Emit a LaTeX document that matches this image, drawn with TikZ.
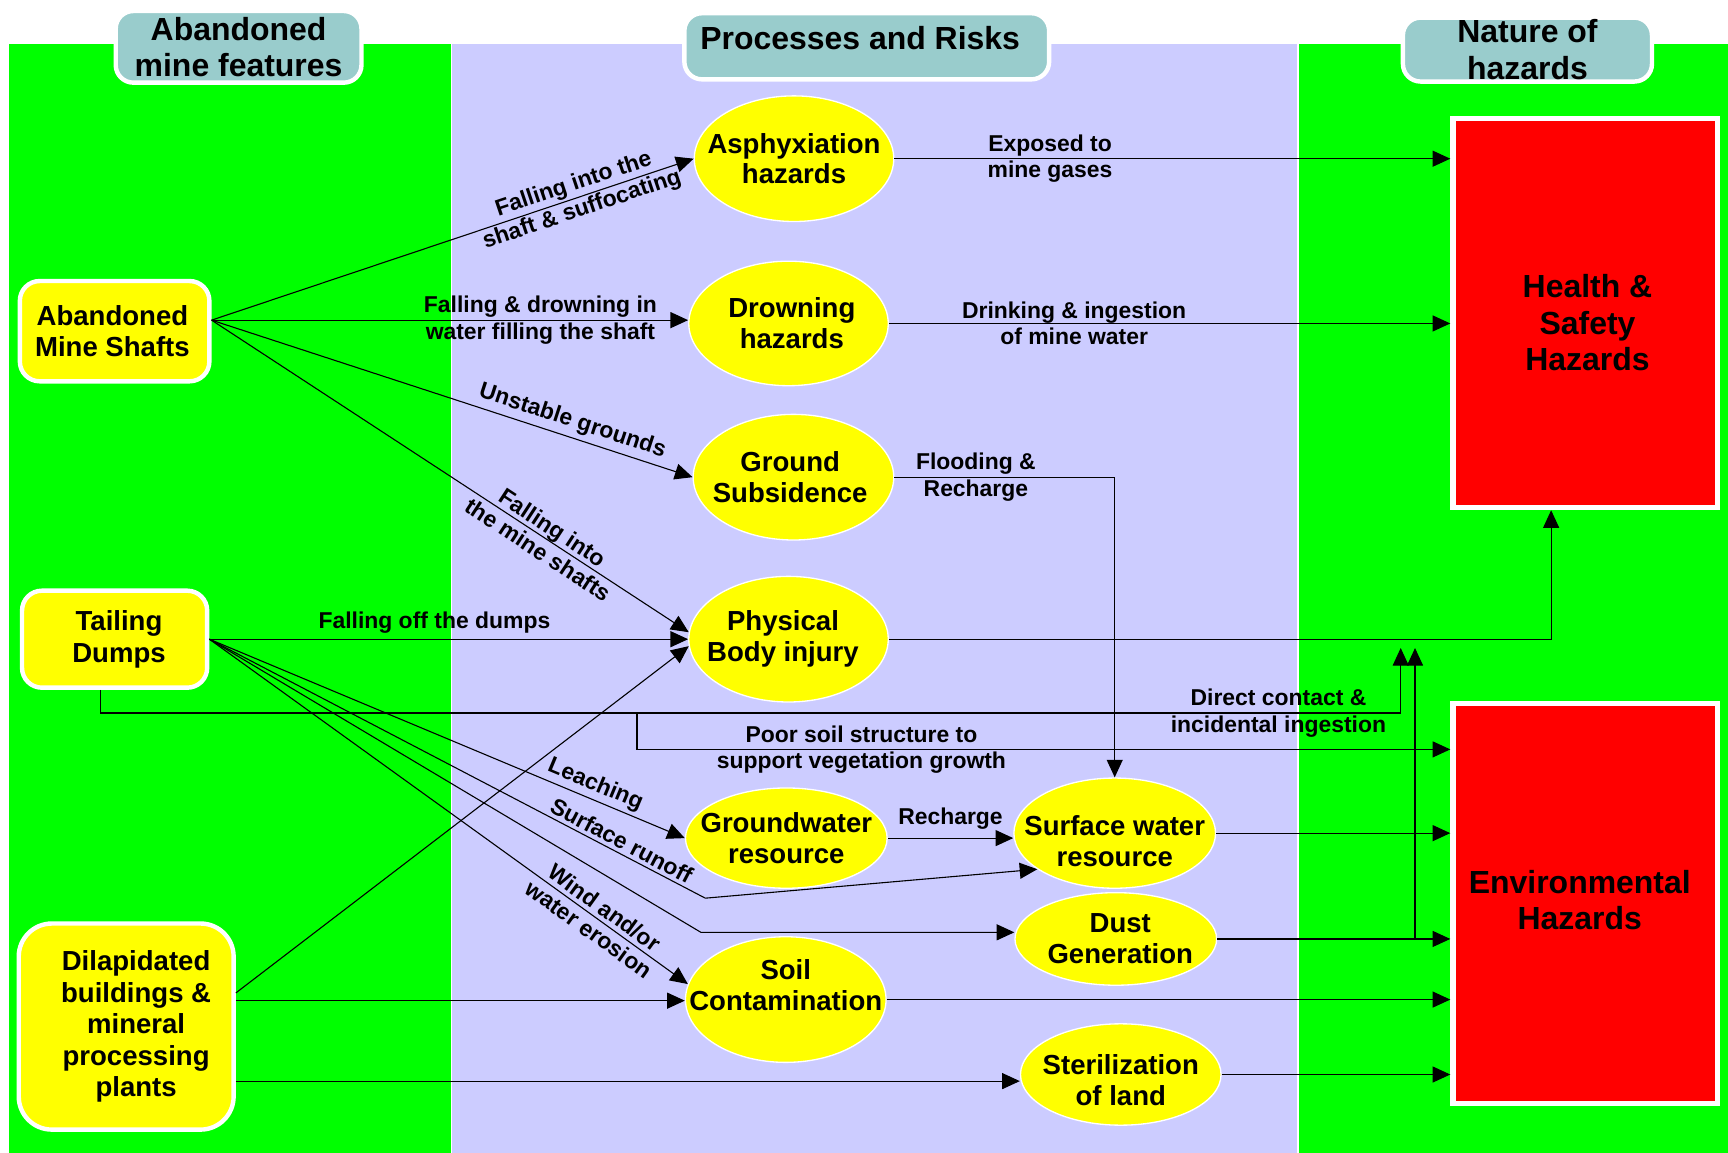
\documentclass[tikz,border=0pt]{standalone}
\usepackage{fontspec}
\setmainfont{Liberation Sans}
\usetikzlibrary{arrows.meta,shapes.geometric,calc}
\definecolor{pgreen}{HTML}{00FF00}
\definecolor{plav}{HTML}{CCCCFF}
\definecolor{pteal}{HTML}{99CCCC}
\definecolor{pyel}{HTML}{FFFF00}
\definecolor{pred}{HTML}{FF0000}
\begin{document}
\begin{tikzpicture}[x=1pt,y=-1pt,
  head/.style={fill=pteal, draw=white, line width=4pt, rounded corners=16pt, font=\bfseries\fontsize{29}{33}\selectfont, align=center, inner sep=0pt},
  feat/.style={fill=pyel, draw=white, line width=4pt, rounded corners=18pt, inner sep=0pt},
  ftxt/.style={font=\bfseries\fontsize{25}{28.5}\selectfont, align=center, inner sep=0pt},
  proc/.style={ellipse, fill=pyel, draw=white, line width=1.2pt, inner sep=0pt},
  ptxt/.style={font=\bfseries\fontsize{25}{28}\selectfont, align=center, inner sep=0pt},
  haz/.style={fill=pred, draw=white, line width=5pt, inner sep=0pt},
  hazt/.style={font=\bfseries\fontsize{29}{33}\selectfont, align=center, inner sep=0pt},
  conn/.style={draw=black, line width=1pt, -{Triangle[length=16pt,width=14.5pt]}},
  elab/.style={font=\bfseries\fontsize{20.8}{24}\selectfont, align=center, inner sep=0pt, text=black},
]
\useasboundingbox (0,0) rectangle (1568,1046);
\fill[white] (0,0) rectangle (1568,1046);
\fill[pgreen] (8,40) rectangle (409,1046);
\fill[plav] (410,40) rectangle (1177,1046);
\fill[pgreen] (1179,40) rectangle (1568,1046);

% headers
\node[head, minimum width=223, minimum height=65] (h1) at (216.5,42.5) {Abandoned\\mine features};
\node[head, minimum width=331, minimum height=60, text height=21pt, text depth=14pt, label={[font=\bfseries\fontsize{29}{33}\selectfont, xshift=-6pt, yshift=7pt]center:Processes and Risks}] (h2) at (786.5,42) {};
\node[head, minimum width=226, minimum height=58] (h3) at (1386,45) {Nature of\\hazards};

% features
\node[feat, minimum width=172, minimum height=91, label={[ftxt,xshift=-2pt]center:{Abandoned\\Mine Shafts}}] (ms) at (104,300.5) {};
\node[feat, minimum width=168, minimum height=88, label={[ftxt,xshift=4pt]center:{Tailing\\Dumps}}] (td) at (104,580) {};
\node[feat, minimum width=195, minimum height=187, rounded corners=30pt, label={[ftxt,xshift=9pt]center:{Dilapidated\\buildings \&\\mineral\\processing\\plants}}] (dil) at (114.5,931.5) {};

% processes
\node[proc, minimum width=181, minimum height=114, label={[ptxt]center:{Asphyxiation\\hazards}}] (asph) at (720.5,144) {};
\node[proc, minimum width=181, minimum height=113, label={[ptxt,xshift=3pt]center:{Drowning\\hazards}}] (drown) at (715.5,293.5) {};
\node[proc, minimum width=182, minimum height=114, label={[ptxt,xshift=-3pt]center:{Ground\\Subsidence}}] (gs) at (720,433) {};
\node[proc, minimum width=181, minimum height=114, label={[ptxt,xshift=-5pt]center:{Physical\\Body injury}}] (phys) at (715.5,580) {};
\node[proc, minimum width=183, minimum height=91, label={[ptxt]center:{Groundwater\\resource}}] (gw) at (713.5,760.5) {};
\node[proc, minimum width=183, minimum height=100, label={[ptxt,yshift=-7pt]center:{Surface water\\resource}}] (sw) at (1011.5,756) {};
\node[proc, minimum width=183, minimum height=84, label={[ptxt,xshift=4pt]center:{Dust\\Generation}}] (dust) at (1012.5,852) {};
\node[proc, minimum width=182, minimum height=114, label={[ptxt,yshift=13pt]center:{Soil\\Contamination}}] (soil) at (713,907) {};
\node[proc, minimum width=182, minimum height=92, label={[ptxt,yshift=-5pt]center:{Sterilization\\of land}}] (ster) at (1017,975) {};

% hazards
\node[haz, minimum width=240, minimum height=353, label={[hazt,xshift=2pt,yshift=-9pt]center:{Health \&\\Safety\\Hazards}}] (hs) at (1438.5,284) {};
\node[haz, minimum width=240, minimum height=363, label={[hazt,xshift=-5pt,yshift=3pt]center:{Environmental\\Hazards}}] (env) at (1438.5,820) {};

% mine shafts
\coordinate (msp) at ([yshift=10pt]ms.east);
\draw[conn] (msp) -- node[elab, sloped, pos=0.76]{Falling into the\\shaft \& suffocating} (asph.west);
\draw[conn] (msp) -- node[elab, pos=0.69]{Falling \& drowning in\\water filling the shaft} (msp -| drown.west);
\draw[conn] (msp) -- node[elab, sloped, above=4pt, pos=0.74]{Unstable grounds} (gs.west);
\draw[conn] (msp) -- node[elab, sloped, pos=0.70]{Falling into\\the mine shafts} (phys.176);

% tailing dumps
\coordinate (tdp) at (td.east);
\coordinate (sr) at (640,815);
\coordinate (dg) at (636,846);
\draw[conn] (tdp) -- node[elab, above=5pt, pos=0.47]{Falling off the dumps} (phys.west);
\draw[conn] (tdp) -- node[elab, sloped, above=3pt, pos=0.80]{Leaching} (gw.west);
\draw[conn] (tdp) -- node[elab, sloped, above=3pt, pos=0.82]{Surface runoff} (sr) -- (sw.205);
\draw[conn] (tdp) -- (dg) -- (dg -| dust.west);
\draw[conn] (tdp) -- node[elab, sloped, pos=0.81]{Wind and/or\\water erosion} (soil.171);

% dilapidated
\coordinate (d2) at ([yshift=23.5pt]dil.east);
\coordinate (d3) at ([yshift=-49.5pt]dil.east);
\draw[conn] ([yshift=30.5pt]dil.east) -- (phys.184);
\draw[conn] (d2) -- (d2 -| soil.west);
\draw[conn] (d3) -- (d3 -| ster.west);

% direct contact and poor soil
\coordinate (tdb) at ([xshift=-13pt]td.south);
\coordinate (dcc) at (1271,647);
\coordinate (dct) at (1271,588);
\draw[conn] (tdb) |- node[elab, pos=0.953]{Direct contact \&\\incidental ingestion} (dcc) -- (dct);
\coordinate (ps) at (578,647);
\draw[conn] (ps) |- node[elab, pos=0.638]{Poor soil structure to\\support vegetation growth} ([yshift=140pt]env.west);

% processes to hazards
\draw[conn] (asph.east) -- node[elab, pos=0.28]{Exposed to\\mine gases} (asph.east -| hs.west);
\draw[conn] (drown.east) -- node[elab, pos=0.33]{Drinking \& ingestion\\of mine water} (drown.east -| hs.west);
\draw[conn] (gs.east) -| node[elab, pos=0.185]{Flooding \&\\Recharge} (sw.north);
\draw[conn] (phys.east) -| ([xshift=-31pt]hs.south);
\draw[conn] (gw.east) -- node[elab, above=7pt]{Recharge} (gw.east -| sw.west);
\draw[conn] (sw.east) -- (sw.east -| env.west);
\draw[conn] (dust.east) -- (dust.east -| env.west);
\coordinate (dj) at (1284,852);
\coordinate (djt) at (1284,588);
\draw[conn] (dj) -- (djt);
\draw[conn] (soil.east) -- (soil.east -| env.west);
\draw[conn] (ster.east) -- (ster.east -| env.west);
\end{tikzpicture}
\end{document}
